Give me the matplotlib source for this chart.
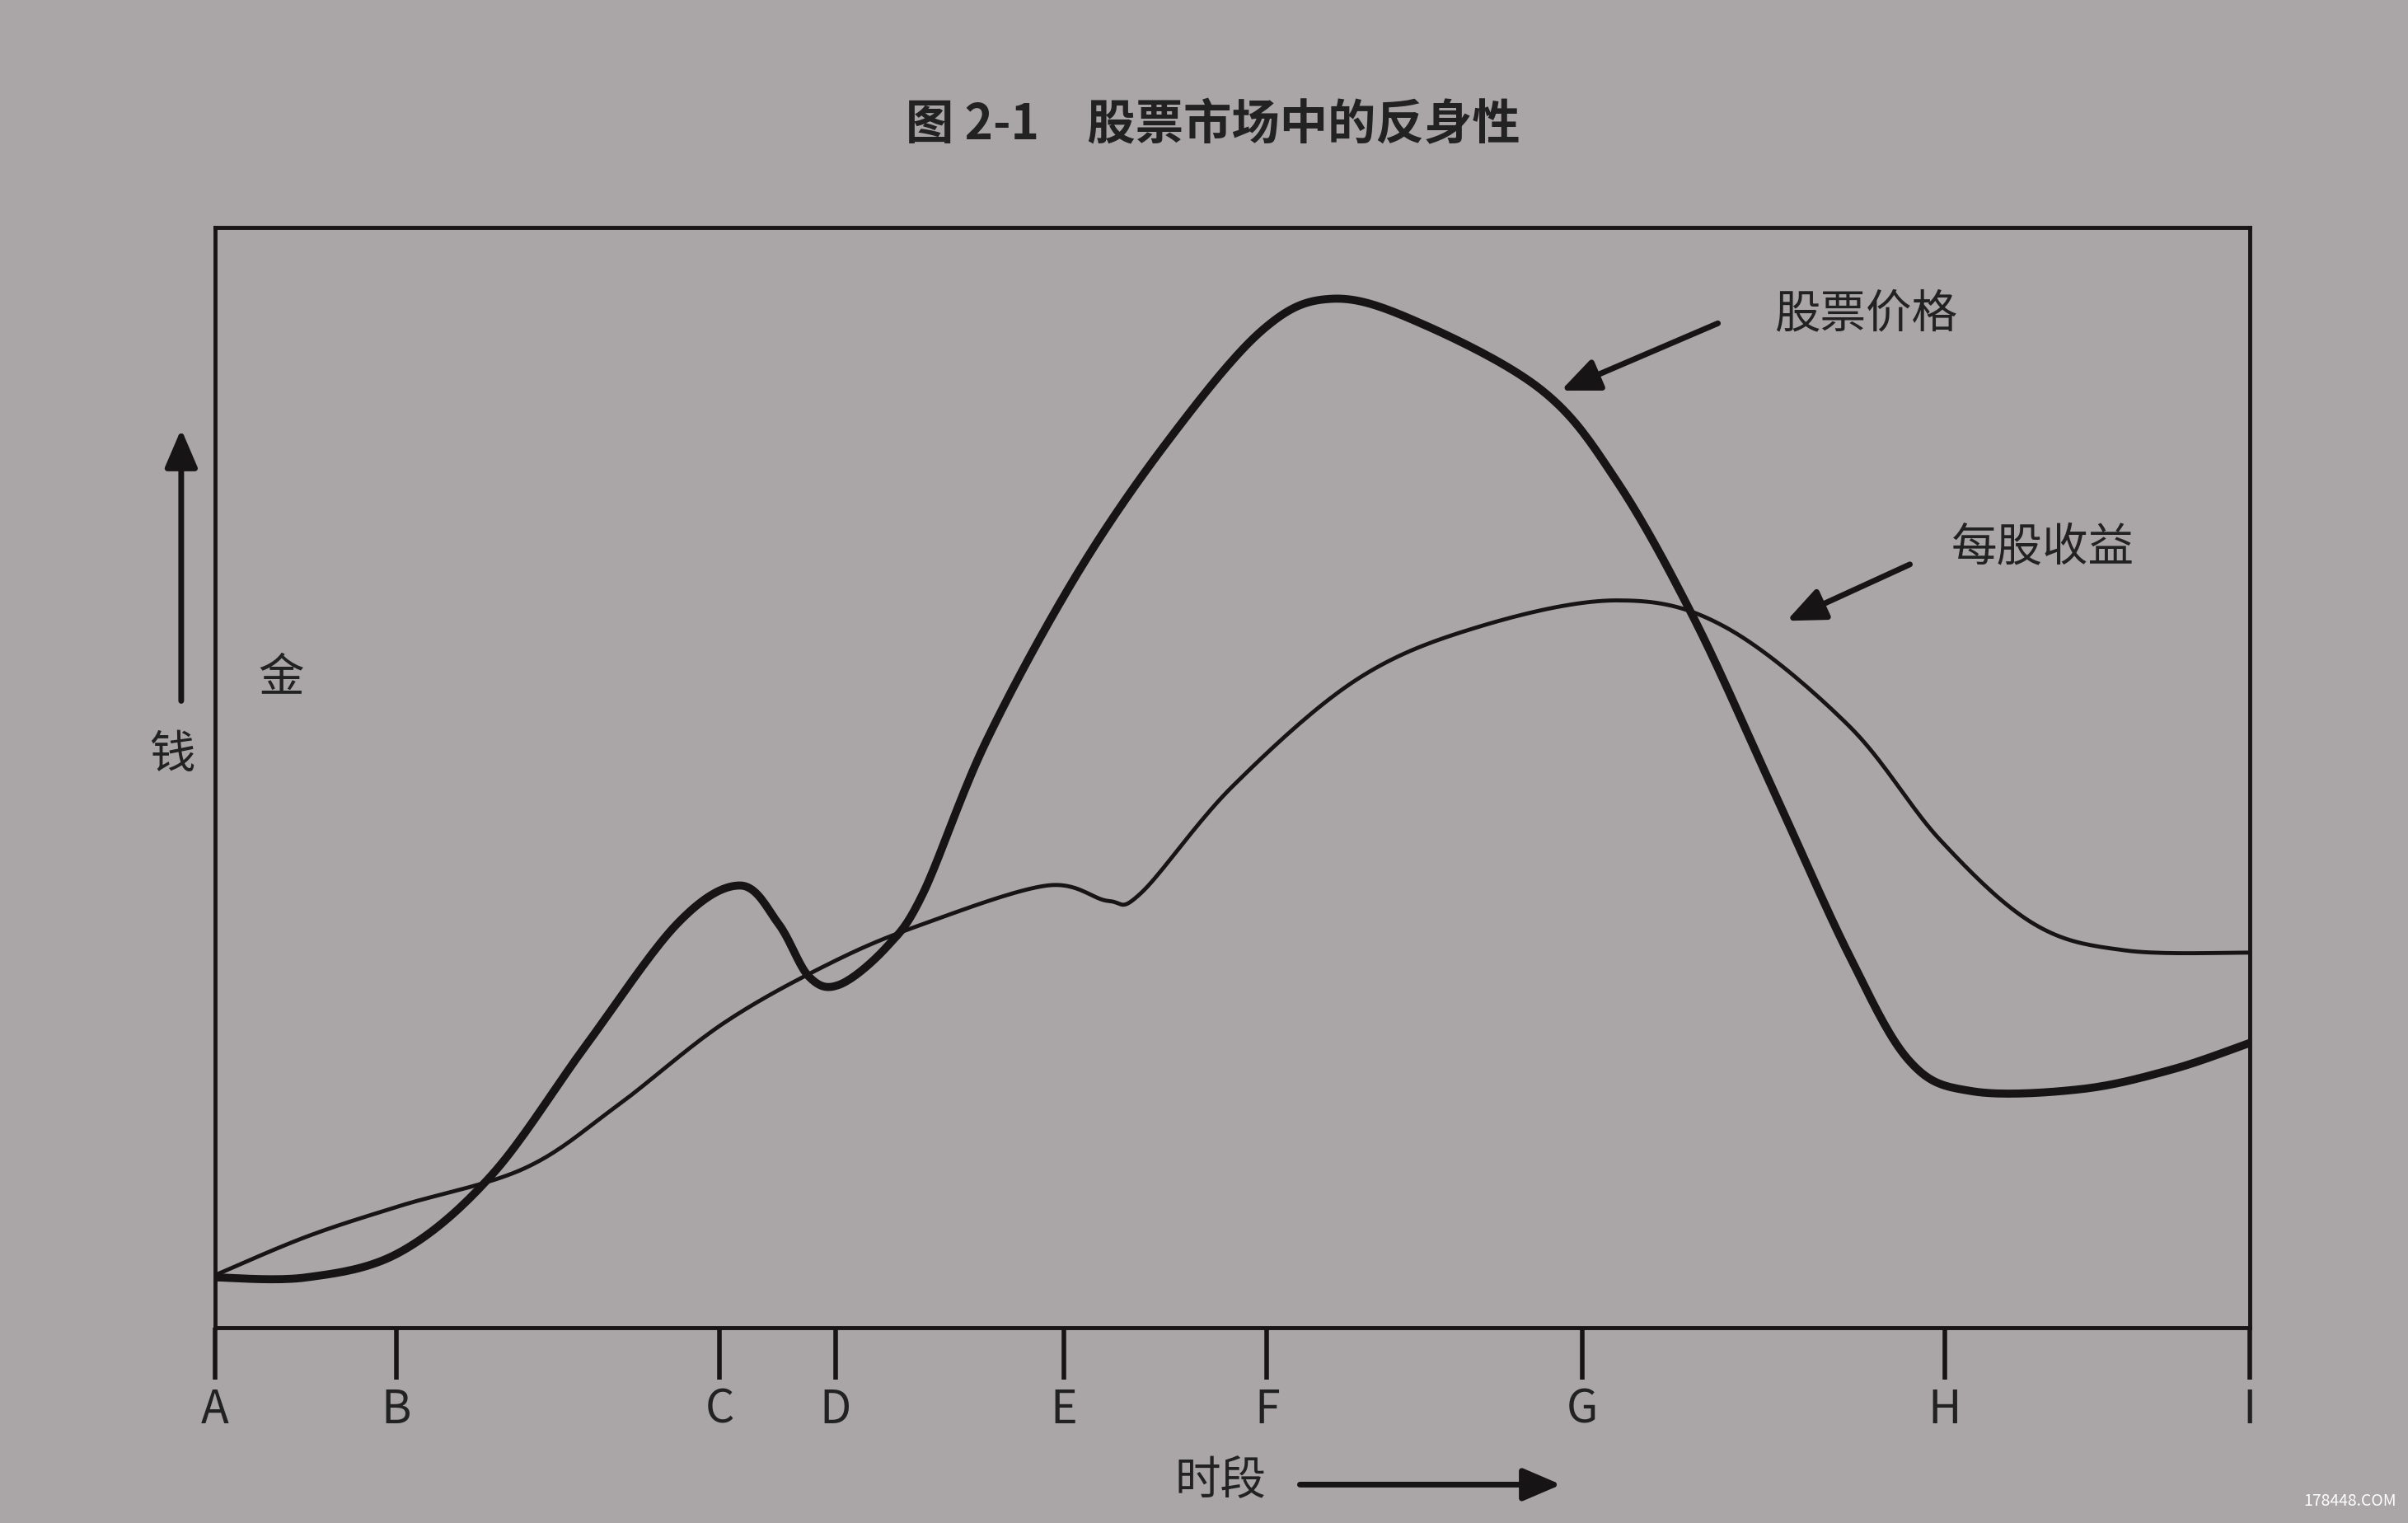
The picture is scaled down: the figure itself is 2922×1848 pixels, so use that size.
import numpy as np
import matplotlib
matplotlib.use("Agg")
import matplotlib.pyplot as plt

plt.rcParams['font.family'] = ['Noto Sans CJK SC', 'DejaVu Sans']

title = "图 2-1　股票市场中的反身性"
tick_labels = ["A", "B", "C", "D", "E", "F", "G", "H", "I"]
tick_pos = [0, 8.9, 24.8, 30.5, 41.7, 51.7, 67.2, 85.0, 100]

price_x = [0, 4.5, 9.1, 13.6, 18.2, 22.7, 25.8, 27.7, 29.2, 30.7, 33.0, 34.8, 37.9, 42.4,
           47.0, 51.5, 54.9, 59.1, 65.2, 68.9, 72.7, 76.5, 80.3, 83.3, 86.4, 91.7, 96.2, 100]
price_y = [4.6, 4.6, 6.9, 13.9, 25.6, 36.7, 40.2, 36.7, 31.9, 31.2, 34.6, 39.5, 53.3, 68.6,
           81.0, 90.7, 93.5, 91.4, 85.2, 76.9, 64.4, 49.2, 33.9, 24.2, 21.5, 21.7, 23.5, 25.9]
eps_x = [0, 4.5, 9.1, 15.2, 19.7, 25.0, 30.3, 34.8, 40.9, 43.9, 45.5, 50.0, 56.1, 62.1,
         68.9, 74.2, 80.3, 84.8, 89.4, 93.9, 100]
eps_y = [4.8, 8.3, 11.1, 14.5, 20.1, 27.7, 33.2, 36.7, 40.2, 38.8, 39.5, 49.2, 58.9, 63.7,
         66.1, 63.7, 54.7, 44.3, 36.7, 34.3, 34.1]


def smooth(x, y, n=20):
    p = np.column_stack([x, y]).astype(float)
    p = np.vstack([p[0], p, p[-1]])
    out = []
    t = np.linspace(0, 1, n, endpoint=False)[:, None]
    for i in range(1, len(p) - 2):
        p0, p1, p2, p3 = p[i - 1], p[i], p[i + 1], p[i + 2]
        seg = 0.5 * ((2 * p1) + (-p0 + p2) * t + (2 * p0 - 5 * p1 + 4 * p2 - p3) * t ** 2
                     + (-p0 + 3 * p1 - 3 * p2 + p3) * t ** 3)
        out.append(seg)
    out.append(p[-2][None, :])
    s = np.vstack(out)
    return s[:, 0], s[:, 1]


bg = '#aaa6a8'
ink = '#161414'
fig = plt.figure(figsize=(29.22, 18.48), dpi=100, facecolor=bg)

W, H = 1568, 992
l, r, t, b = 140, 1465, 148, 865
ax = fig.add_axes([l / W, 1 - b / H, (r - l) / W, (b - t) / H], facecolor=bg)
ax.set_xlim(0, 100)
ax.set_ylim(0, 100)
for s in ax.spines.values():
    s.set_linewidth(3.5)
    s.set_color(ink)

px, py = smooth(price_x, price_y)
ex, ey = smooth(eps_x, eps_y)
ax.plot(px, py, color=ink, lw=7, solid_capstyle='round')
ax.plot(ex, ey, color=ink, lw=3.5, solid_capstyle='round')

ax.set_xticks(tick_pos)
ax.set_xticklabels(tick_labels, fontsize=40, color='#222')
ax.tick_params(axis='x', direction='out', length=45, width=4, color=ink, pad=6)
ax.set_yticks([])


def ff(x, y):
    return (x / W, 1 - y / H)


fig.text(*ff(790, 82), title, fontsize=42, weight='bold', color='#222', ha='center', va='center')

arr = dict(arrowstyle='-|>,head_length=1.4,head_width=0.6', color=ink, lw=5)
fig.text(*ff(1215, 205), "股票价格", fontsize=40, color='#222', ha='center', va='center')
fig.add_artist(matplotlib.patches.FancyArrowPatch(ff(1120, 210), ff(1015, 255), transform=fig.transFigure,
                                                  mutation_scale=20, **arr))
fig.text(*ff(1330, 357), "每股收益", fontsize=40, color='#222', ha='center', va='center')
fig.add_artist(matplotlib.patches.FancyArrowPatch(ff(1245, 367), ff(1162, 405), transform=fig.transFigure,
                                                  mutation_scale=20, **arr))

fig.add_artist(matplotlib.patches.FancyArrowPatch(ff(118, 458), ff(118, 278), transform=fig.transFigure,
                                                  mutation_scale=20, **arr))
fig.text(*ff(112, 492), "钱", fontsize=40, color='#222', ha='center', va='center')
fig.text(*ff(183, 442), "金", fontsize=40, color='#222', ha='center', va='center')

fig.text(*ff(795, 965), "时段", fontsize=40, color='#222', ha='center', va='center')
fig.add_artist(matplotlib.patches.FancyArrowPatch(ff(845, 967), ff(1018, 967), transform=fig.transFigure,
                                                  mutation_scale=20, **arr))
fig.text(*ff(1530, 978), "178448.COM", fontsize=14, color='white', ha='center', va='center')

fig.savefig("out.png", dpi=100, facecolor=bg)
